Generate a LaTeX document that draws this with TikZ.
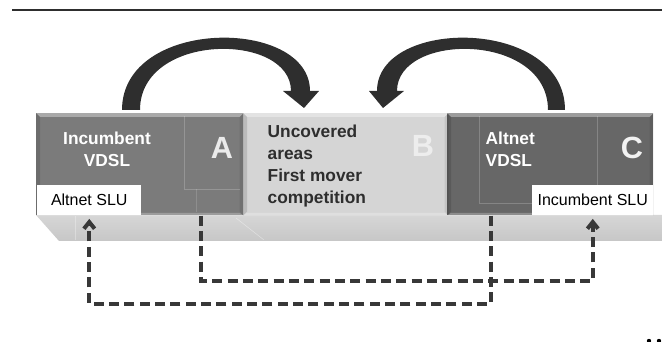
\documentclass[tikz,border=0pt]{standalone}
\usepackage{fontspec}
\setmainfont{Liberation Sans}
\usepackage{tikz}
\usetikzlibrary{arrows.meta}

\definecolor{paneldark}{HTML}{7B7B7B}
\definecolor{panelmid}{HTML}{D5D5D5}
\definecolor{panelblack}{HTML}{676767}
\definecolor{floorgrey}{HTML}{C9C9C9}
\definecolor{inkgrey}{HTML}{2E2E2E}

\begin{document}
\begin{tikzpicture}[x=0.75pt,y=-0.75pt,>={Straight Barb[length=5pt,width=8pt]},
    panel/.style={draw=none,rectangle,inner sep=0pt,anchor=north west,minimum height=76.5pt},
    bigtxt/.style={font=\fontsize{13}{16.5}\selectfont\bfseries},
    letter/.style={font=\fontsize{23}{23}\selectfont\bfseries},
    slu/.style={fill=white,rectangle,inner sep=0pt,anchor=north west,minimum height=22.5pt,font=\fontsize{12}{12}\selectfont},
    link/.style={draw=inkgrey!95,line width=3pt,dash pattern=on 7.5pt off 4pt},
    arcarrow/.style={fill=inkgrey}]
  \useasboundingbox (0,0) rectangle (662,342);
  \draw[line width=1.5pt,inkgrey] (12,10) -- (662,10);

  % floor under the panels
  \shade[top color=gray!32,bottom color=gray!44] (36,215) -- (662,215) -- (662,241) -- (59,241) -- cycle;
  \draw[white,opacity=.4] (236,218) -- (264,240);
  \draw[white,opacity=.3] (75,216) -- (75,240);

  \node[panel,fill=paneldark,minimum width=155.25pt] (boxA) at (36,113) {};
  \node[panel,fill=panelmid,minimum width=153.75pt] (boxB) at (243,113) {};
  \node[panel,fill=panelblack,minimum width=154.5pt] (boxC) at (447,113) {};

  % bevels
  \foreach \b in {boxA,boxB,boxC}{
    \fill[white,opacity=.35] (\b.north west) -- (\b.north east) -- ([xshift=-3pt,yshift=-3pt]\b.north east) -- ([xshift=3pt,yshift=-3pt]\b.north west) -- cycle;
    \fill[black,opacity=.12] (\b.north west) -- ([xshift=3pt,yshift=-3pt]\b.north west) -- ([xshift=3pt,yshift=3pt]\b.south west) -- (\b.south west) -- cycle;
    \fill[black,opacity=.08] (\b.north east) -- ([xshift=-3pt,yshift=-3pt]\b.north east) -- ([xshift=-3pt,yshift=3pt]\b.south east) -- (\b.south east) -- cycle;
    \fill[white,opacity=.25] (\b.south west) -- (\b.south east) -- ([xshift=-3pt,yshift=2pt]\b.south east) -- ([xshift=3pt,yshift=2pt]\b.south west) -- cycle;
  }
  \draw[white,opacity=.2] (184,116) -- (184,189) -- (240,189);
  \draw[white,opacity=.15] (196,189) -- (196,212);
  \draw[white,opacity=.2] (479,116) -- (479,203) -- (532,203);
  \draw[white,opacity=.2] (597,116) -- (597,185);

  \node[bigtxt,white,align=center] (incA) at (107,149) {Incumbent\\VDSL};
  \node[letter,white!92!black] (letA) at (222,148) {A};
  \node[bigtxt,inkgrey,align=left,anchor=west] (areasB) at (263,166) {Uncovered\\areas\\First mover\\competition};
  \node[letter,white!93!black] (letB) at (423,146) {B};
  \node[bigtxt,white,align=left,anchor=west] (altC) at (481,149) {Altnet\\VDSL};
  \node[letter,white!95!black] (letC) at (632,148) {C};

  \node[slu,minimum width=78pt] (altslu) at (37,185) {Altnet SLU};
  \node[slu,minimum width=90.75pt] (incslu) at (532,185) {Incumbent SLU};

  % sharing of the line plant
  \draw[link,->] ([xshift=33pt]boxC.south west) -- ++(0,88) -| ([yshift=-2.5pt]altslu.south);
  \draw[link,->] ([xshift=-32.25pt]boxA.south east) -- ++(0,65) -| ([yshift=-2.5pt]incslu.south);

  % curved block arrows
  \fill[arcarrow] (122,110) .. controls (122,17) and (310,17) .. (310,91) -- (319,91) -- (304,108) -- (283,91) -- (291,91)
    .. controls (291,32) and (140,32) .. (140,110) -- cycle;
  \fill[arcarrow] (565,110) .. controls (565,17) and (377,17) .. (377,91) -- (369,91) -- (383,108) -- (404,91) -- (397,91)
    .. controls (397,32) and (548,32) .. (548,110) -- cycle;

  \fill[black] (649,341) circle (2.2);
  \fill[black] (659,341) circle (2.2);
\end{tikzpicture}
\end{document}
